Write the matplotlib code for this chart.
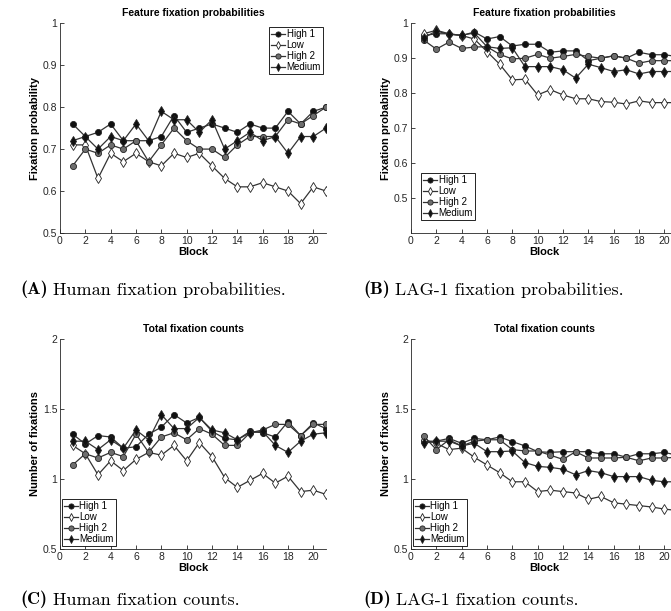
import matplotlib
matplotlib.use('Agg')
import matplotlib.pyplot as plt
from matplotlib.ticker import FuncFormatter

plt.rcParams['font.family'] = ['Liberation Sans', 'DejaVu Sans']

blocks = list(range(1, 22))
series_names = ['High 1', 'Low', 'High 2', 'Medium']

# (A) human fixation probabilities
human_prob_high1 = [0.76, 0.73, 0.74, 0.76, 0.72, 0.72, 0.72, 0.73, 0.78, 0.74, 0.75,
                    0.76, 0.75, 0.74, 0.76, 0.75, 0.75, 0.79, 0.76, 0.79, 0.80]
human_prob_low = [0.71, 0.71, 0.63, 0.69, 0.67, 0.69, 0.67, 0.66, 0.69, 0.68, 0.69,
                  0.66, 0.63, 0.61, 0.61, 0.62, 0.61, 0.60, 0.57, 0.61, 0.60]
human_prob_high2 = [0.66, 0.70, 0.69, 0.71, 0.70, 0.72, 0.67, 0.71, 0.75, 0.72, 0.70,
                    0.70, 0.68, 0.71, 0.73, 0.73, 0.73, 0.77, 0.76, 0.78, 0.80]
human_prob_medium = [0.72, 0.73, 0.70, 0.73, 0.72, 0.76, 0.72, 0.79, 0.77, 0.77, 0.74,
                     0.77, 0.70, 0.72, 0.74, 0.72, 0.73, 0.69, 0.73, 0.73, 0.75]

# (B) LAG-1 fixation probabilities
lag_prob_high1 = [0.965, 0.97, 0.97, 0.965, 0.975, 0.955, 0.962, 0.935, 0.94, 0.94, 0.917,
                  0.921, 0.921, 0.893, 0.90, 0.907, 0.90, 0.917, 0.91, 0.91, 0.905]
lag_prob_low = [0.97, 0.98, 0.97, 0.965, 0.955, 0.919, 0.883, 0.838, 0.84, 0.795, 0.81,
                0.795, 0.784, 0.784, 0.776, 0.774, 0.769, 0.778, 0.773, 0.773, 0.773]
lag_prob_high2 = [0.952, 0.926, 0.946, 0.928, 0.932, 0.933, 0.911, 0.898, 0.90, 0.911, 0.90,
                  0.905, 0.911, 0.905, 0.90, 0.907, 0.90, 0.886, 0.893, 0.893, 0.893]
lag_prob_medium = [0.958, 0.978, 0.968, 0.966, 0.972, 0.933, 0.928, 0.93, 0.876, 0.876, 0.876,
                   0.867, 0.843, 0.883, 0.873, 0.862, 0.867, 0.855, 0.862, 0.862, 0.862]

# (C) human fixation counts
human_cnt_high1 = [1.32, 1.25, 1.31, 1.30, 1.22, 1.23, 1.32, 1.37, 1.46, 1.40, 1.44,
                   1.34, 1.29, 1.28, 1.34, 1.33, 1.30, 1.41, 1.31, 1.40, 1.36]
human_cnt_low = [1.24, 1.18, 1.03, 1.13, 1.06, 1.14, 1.19, 1.17, 1.24, 1.13, 1.26,
                 1.16, 1.01, 0.94, 0.99, 1.04, 0.97, 1.02, 0.91, 0.92, 0.89]
human_cnt_high2 = [1.10, 1.18, 1.15, 1.19, 1.16, 1.32, 1.19, 1.30, 1.33, 1.28, 1.36,
                   1.32, 1.24, 1.24, 1.33, 1.35, 1.39, 1.39, 1.31, 1.39, 1.39]
human_cnt_medium = [1.27, 1.27, 1.21, 1.28, 1.22, 1.35, 1.28, 1.46, 1.36, 1.36, 1.44,
                    1.35, 1.33, 1.28, 1.33, 1.34, 1.24, 1.19, 1.27, 1.32, 1.33]

# (D) LAG-1 fixation counts
lag_cnt_high1 = [1.27, 1.27, 1.29, 1.255, 1.29, 1.28, 1.30, 1.267, 1.236, 1.195, 1.19,
                 1.195, 1.195, 1.195, 1.18, 1.18, 1.155, 1.18, 1.18, 1.19, 1.17]
lag_cnt_low = [1.28, 1.255, 1.21, 1.22, 1.155, 1.10, 1.045, 0.98, 0.98, 0.91, 0.92,
               0.91, 0.90, 0.855, 0.875, 0.83, 0.82, 0.81, 0.80, 0.785, 0.775]
lag_cnt_high2 = [1.307, 1.21, 1.28, 1.236, 1.27, 1.28, 1.28, 1.21, 1.20, 1.20, 1.17,
                 1.14, 1.195, 1.15, 1.15, 1.15, 1.155, 1.13, 1.15, 1.15, 1.155]
lag_cnt_medium = [1.255, 1.27, 1.27, 1.236, 1.255, 1.195, 1.195, 1.20, 1.117, 1.09, 1.083,
                  1.07, 1.03, 1.06, 1.045, 1.017, 1.017, 1.017, 0.99, 0.98, 0.98]

line_color = '#333333'
marker_styles = {
    'High 1': dict(marker='o', markersize=4.4, markerfacecolor='#111111'),
    'Low': dict(marker='d', markersize=4.6, markerfacecolor='white'),
    'High 2': dict(marker='o', markersize=4.4, markerfacecolor='#6e6e6e'),
    'Medium': dict(marker='d', markersize=4.6, markerfacecolor='#111111'),
}


def draw_panel(ax, data, title, ylabel, ylim, yticks, legend_loc, legend_anchor):
    for name, values in zip(series_names, data):
        ax.plot(blocks, values, color=line_color, lw=0.9,
                markeredgecolor='#222222', markeredgewidth=0.6, label=name,
                **marker_styles[name])
    ax.set_xlim(0, 21)
    ax.set_ylim(*ylim)
    ax.set_xticks(range(0, 21, 2))
    ax.set_yticks(yticks)
    ax.yaxis.set_major_formatter(FuncFormatter(lambda v, p: '%g' % v))
    for side in ['top', 'right']:
        ax.spines[side].set_visible(False)
    for side in ['left', 'bottom']:
        ax.spines[side].set_color('#262626')
        ax.spines[side].set_linewidth(0.6)
    ax.tick_params(direction='in', length=3, width=0.6, colors='#262626',
                   labelsize=7.5, pad=2)
    ax.set_title(title, fontsize=7.5, fontweight='bold', pad=5)
    ax.set_xlabel('Block', fontsize=8, fontweight='bold', labelpad=1)
    ax.set_ylabel(ylabel, fontsize=8, fontweight='bold', labelpad=2)
    leg = ax.legend(loc=legend_loc, bbox_to_anchor=legend_anchor, fontsize=7,
                    frameon=True, fancybox=False, framealpha=1, edgecolor='black',
                    borderaxespad=0, borderpad=0.2, labelspacing=0.1,
                    handlelength=1.4, handletextpad=0.2, markerscale=0.85)
    leg.get_frame().set_linewidth(0.6)


def add_caption(fig, x, y, letter, text):
    t = fig.text(x, y, letter, family='cmb10', fontsize=13, va='center', ha='left')
    plt.annotate(text, xy=(1, 0), xycoords=t, xytext=(4, 0), textcoords='offset points',
                 family='cmr10', fontsize=13, va='bottom', ha='left')


fig = plt.figure(figsize=(6.71, 6.11), dpi=100)

ax_a = fig.add_axes([0.0894, 0.6187, 0.3964, 0.3432])
ax_b = fig.add_axes([0.6125, 0.6187, 0.3964, 0.3432])
ax_c = fig.add_axes([0.0894, 0.1015, 0.3964, 0.3437])
ax_d = fig.add_axes([0.6125, 0.1015, 0.3964, 0.3437])

draw_panel(ax_a, [human_prob_high1, human_prob_low, human_prob_high2, human_prob_medium],
           'Feature fixation probabilities', 'Fixation probability',
           (0.5, 1), [0.5, 0.6, 0.7, 0.8, 0.9, 1.0], 'upper right', (0.989, 0.981))
draw_panel(ax_b, [lag_prob_high1, lag_prob_low, lag_prob_high2, lag_prob_medium],
           'Feature fixation probabilities', 'Fixation probability',
           (0.4, 1), [0.5, 0.6, 0.7, 0.8, 0.9, 1.0], 'lower left', (0.038, 0.062))
draw_panel(ax_c, [human_cnt_high1, human_cnt_low, human_cnt_high2, human_cnt_medium],
           'Total fixation counts', 'Number of fixations',
           (0.5, 2), [0.5, 1, 1.5, 2], 'lower left', (0.0075, 0.014))
draw_panel(ax_d, [lag_cnt_high1, lag_cnt_low, lag_cnt_high2, lag_cnt_medium],
           'Total fixation counts', 'Number of fixations',
           (0.5, 2), [0.5, 1, 1.5, 2], 'lower left', (0.0075, 0.014))

add_caption(fig, 20 / 671, 1 - 289 / 611, '(A)', 'Human fixation probabilities.')
add_caption(fig, 363 / 671, 1 - 289 / 611, '(B)', 'LAG-1 fixation probabilities.')
add_caption(fig, 20 / 671, 1 - 599 / 611, '(C)', 'Human fixation counts.')
add_caption(fig, 363 / 671, 1 - 599 / 611, '(D)', 'LAG-1 fixation counts.')

fig.savefig('out.png', dpi=100)
